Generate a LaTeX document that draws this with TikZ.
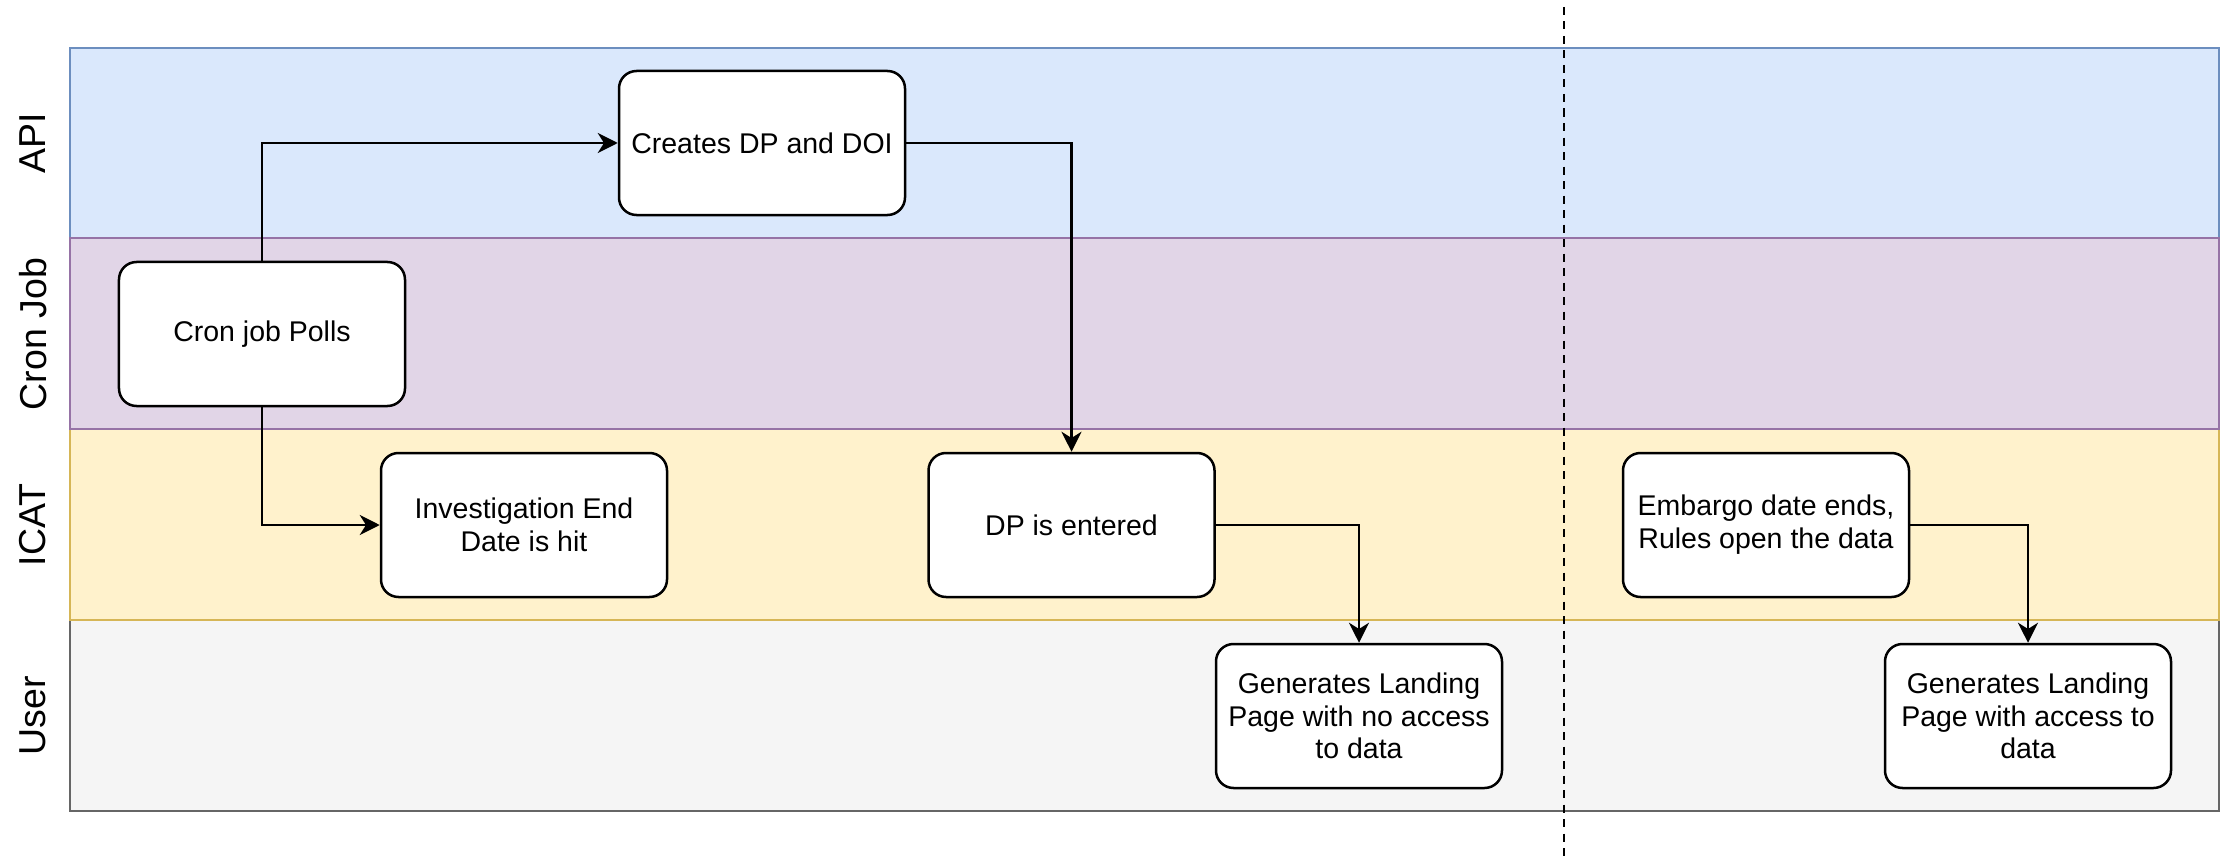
\documentclass[tikz,border=0pt]{standalone}
\usepackage{fontspec}
\setmainfont{Liberation Sans}
\usetikzlibrary{positioning,arrows.meta}

\definecolor{apifill}{HTML}{DAE8FC}
\definecolor{apiline}{HTML}{6C8EBF}
\definecolor{cronfill}{HTML}{E1D5E7}
\definecolor{cronline}{HTML}{9673A6}
\definecolor{icatfill}{HTML}{FFF2CC}
\definecolor{icatline}{HTML}{D6B656}
\definecolor{userfill}{HTML}{F5F5F5}
\definecolor{userline}{HTML}{666666}

\begin{document}
\begin{tikzpicture}[
    x=0.4pt, y=-0.4pt,
    stepnode/.style={rectangle, rounded corners=7pt, draw=black, fill=white, line width=1pt, minimum width=114.4pt, minimum height=57.6pt, align=center, inner sep=0pt, font=\fontsize{11.4}{13.1}\selectfont},
    lanelabel/.style={rotate=90, font=\fontsize{15}{18}\selectfont},
    lane/.style={line width=1pt},
    flow/.style={->, >={Stealth[length=8pt, width=8pt, inset=2.5pt]}, line width=1pt}
    ]
        \useasboundingbox (0,0) rectangle (2221,859);

        %Lanes
        \draw[lane, fill=apifill, draw=apiline]   (70,48)  rectangle (2219,238);
        \draw[lane, fill=userfill, draw=userline] (70,620) rectangle (2219,811);
        \draw[lane, fill=icatfill, draw=icatline] (70,429) rectangle (2219,620);
        \draw[lane, fill=cronfill, draw=cronline] (70,238) rectangle (2219,429);

        \node[lanelabel] (lapi)  at (33,143) {API};
        \node[lanelabel] (lcron) at (33,334) {Cron Job};
        \node[lanelabel] (licat) at (33,525) {ICAT};
        \node[lanelabel] (luser) at (33,716) {User};

        %Cut-off line
        \coordinate (cuttop) at (1564,7);
        \coordinate (cutbot) at (1564,859);
        \draw[dash pattern=on 3.2pt off 2.6pt, line width=0.8pt] (cuttop) -- (cutbot);

        %Nodes
        \node[stepnode]
            (cron)      at (262,334)    {Cron job Polls};
        \node[stepnode]
            (creates)   at (762,143)    {Creates DP and DOI};
        \node[stepnode]
            (invest)    at (524,525)    {Investigation End\\Date is hit};
        \node[stepnode]
            (dpent)     [right=103.6pt of invest]   {DP is entered};
        \node[stepnode]
            (genno)     at (1359,716)   {Generates Landing\\Page with no access\\to data};
        \node[stepnode]
            (embargo)   at (1766,525)   {Embargo date ends,\\Rules open the data};
        \node[stepnode]
            (genyes)    at (2028,716)   {Generates Landing\\Page with access to\\data};

        %Lines
        \draw[flow] (cron.north) |- (creates.west);
        \draw[flow] (cron.south) |- (invest.west);
        \draw[flow] (creates.east) -| (dpent.north);
        \draw[flow] (dpent.east) -| (genno.north);
        \draw[flow] (embargo.east) -| (genyes.north);
\end{tikzpicture}
\end{document}
